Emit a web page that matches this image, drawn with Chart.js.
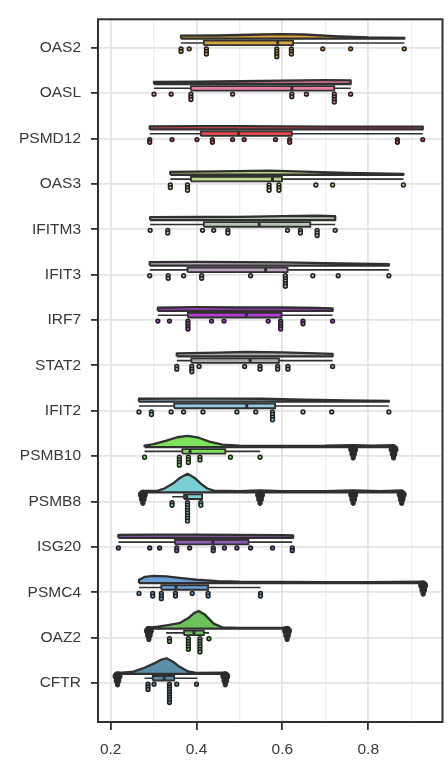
<!DOCTYPE html>
<html>
<head>
<meta charset="utf-8">
<script src="https://cdn.jsdelivr.net/npm/chart.js@4.4.1/dist/chart.umd.min.js"></script>
<style>
  html, body { margin: 0; padding: 0; background: #fff; }
  #wrap { width: 448px; height: 760px; }
</style>
</head>
<body>
<div id="wrap"><canvas id="rainChart" width="448" height="760"></canvas></div>
<script>
// genes, top to bottom
const genes = ['OAS2', 'OASL', 'PSMD12', 'OAS3', 'IFITM3', 'IFIT3', 'IRF7', 'STAT2',
  'IFIT2', 'PSMB10', 'PSMB8', 'ISG20', 'PSMC4', 'OAZ2', 'CFTR'];

const colors = ['#d9a53a', '#e87da6', '#e8474a', '#bcd98a', '#b7c6b4', '#b9a3bd', '#b13fd6', '#a9a9a9',
  '#93cbe3', '#7de35a', '#79cfd6', '#8c5cb3', '#6a9fd8', '#6cc25b', '#5b8fa8'];

// [lower whisker, q1, median, q3, upper whisker]
const boxStats = [
  [0.364, 0.417, 0.589, 0.625, 0.884],
  [0.301, 0.387, 0.622, 0.721, 0.759],
  [0.291, 0.410, 0.498, 0.622, 0.927],
  [0.339, 0.387, 0.577, 0.599, 0.882],
  [0.292, 0.417, 0.546, 0.665, 0.723],
  [0.291, 0.379, 0.561, 0.612, 0.848],
  [0.310, 0.380, 0.516, 0.598, 0.717],
  [0.354, 0.388, 0.525, 0.592, 0.717],
  [0.266, 0.348, 0.517, 0.583, 0.848],
  [0.279, 0.367, 0.385, 0.467, 0.548],
  [0.343, 0.371, 0.377, 0.413, 0.413],
  [0.218, 0.350, 0.438, 0.521, 0.623],
  [0.266, 0.318, 0.352, 0.427, 0.549],
  [0.329, 0.371, 0.394, 0.417, 0.429],
  [0.279, 0.298, 0.325, 0.348, 0.402]
];

// raw points: [value, how many at that value]
const points = [
  [[0.364, 2], [0.383, 1], [0.423, 3], [0.587, 4], [0.621, 3], [0.694, 1], [0.759, 1], [0.884, 1]],
  [[0.301, 1], [0.341, 1], [0.387, 3], [0.484, 1], [0.622, 2], [0.656, 1], [0.721, 4], [0.759, 1]],
  [[0.291, 2], [0.343, 1], [0.401, 1], [0.437, 2], [0.484, 1], [0.511, 1], [0.584, 1], [0.617, 2], [0.868, 2], [0.927, 1]],
  [[0.339, 2], [0.379, 3], [0.569, 3], [0.592, 3], [0.678, 1], [0.717, 1], [0.882, 1]],
  [[0.292, 1], [0.333, 2], [0.414, 1], [0.440, 1], [0.473, 2], [0.612, 1], [0.642, 2], [0.681, 3], [0.723, 1]],
  [[0.291, 1], [0.334, 2], [0.370, 1], [0.412, 2], [0.526, 1], [0.607, 5], [0.671, 1], [0.730, 1], [0.848, 1]],
  [[0.310, 1], [0.337, 1], [0.380, 4], [0.435, 1], [0.464, 1], [0.567, 1], [0.596, 4], [0.648, 2], [0.717, 1]],
  [[0.354, 2], [0.389, 3], [0.406, 1], [0.512, 1], [0.548, 2], [0.589, 2], [0.613, 2], [0.717, 1]],
  [[0.266, 1], [0.295, 2], [0.341, 1], [0.370, 1], [0.415, 1], [0.494, 1], [0.538, 1], [0.577, 4], [0.648, 1], [0.715, 1], [0.848, 1]],
  [[0.279, 1], [0.360, 4], [0.381, 3], [0.408, 2], [0.479, 1], [0.548, 1]],
  [[0.343, 2], [0.379, 8], [0.410, 2]],
  [[0.218, 1], [0.291, 1], [0.314, 1], [0.354, 2], [0.384, 1], [0.439, 2], [0.465, 1], [0.494, 1], [0.526, 1], [0.577, 1], [0.623, 2]],
  [[0.266, 1], [0.298, 2], [0.318, 3], [0.351, 2], [0.390, 1], [0.427, 2], [0.549, 2]],
  [[0.337, 2], [0.381, 5], [0.408, 6], [0.429, 1]],
  [[0.287, 3], [0.301, 1], [0.337, 8], [0.354, 1], [0.400, 1]]
];

// outliers piled into dark drops at the ends of the clouds
const blobs = [[], [], [], [], [], [], [], [], [],
  [0.765, 0.859],
  [0.275, 0.548, 0.765, 0.878],
  [],
  [0.928],
  [0.289, 0.611],
  [0.216, 0.467]
];

// half violin outline: [value, density]
const violins = [
  [[0.364, 3], [0.45, 3.2], [0.55, 4.2], [0.6, 4.7], [0.65, 4.2], [0.72, 2.5], [0.8, 1.2], [0.884, 0.8]],
  [[0.301, 2.2], [0.4, 2.5], [0.5, 2.8], [0.6, 3.5], [0.7, 4], [0.759, 3.8]],
  [[0.291, 3], [0.4, 3.3], [0.5, 3.3], [0.6, 3], [0.7, 2.8], [0.8, 2.8], [0.927, 2.8]],
  [[0.339, 3], [0.45, 3.5], [0.57, 4.2], [0.65, 3.2], [0.75, 1.8], [0.882, 1]],
  [[0.292, 3], [0.4, 3.2], [0.5, 3.3], [0.6, 4.2], [0.68, 4.5], [0.723, 4]],
  [[0.291, 3.5], [0.4, 3.7], [0.5, 3.5], [0.6, 3.3], [0.7, 2.5], [0.848, 1.3]],
  [[0.31, 3.2], [0.4, 3.8], [0.5, 3.5], [0.6, 3.5], [0.68, 3], [0.717, 2.5]],
  [[0.354, 3], [0.45, 3.8], [0.52, 4.6], [0.6, 4], [0.68, 3], [0.717, 2.5]],
  [[0.266, 3], [0.35, 3.2], [0.45, 3.2], [0.55, 3], [0.65, 2], [0.75, 1.2], [0.848, 0.8]],
  [[0.279, 1.5], [0.3, 3], [0.33, 6.5], [0.355, 10], [0.379, 11.5], [0.405, 9.5], [0.43, 5.5], [0.46, 2.5], [0.5, 1.5], [0.6, 1.2], [0.7, 1.3], [0.765, 2], [0.81, 1.3], [0.859, 2]],
  [[0.275, 1.5], [0.31, 1.8], [0.325, 4], [0.345, 9], [0.362, 15], [0.379, 19], [0.395, 15], [0.41, 9], [0.425, 4], [0.44, 1.8], [0.5, 1.2], [0.548, 2], [0.6, 1.2], [0.7, 1.2], [0.765, 2], [0.83, 1.2], [0.878, 2]],
  [[0.218, 3], [0.3, 3.2], [0.4, 3.2], [0.5, 3], [0.6, 2.7], [0.625, 2.5]],
  [[0.266, 3.5], [0.28, 6.5], [0.3, 7.5], [0.33, 7], [0.36, 5.5], [0.4, 3.5], [0.45, 2.2], [0.5, 1.5], [0.6, 1.2], [0.7, 1], [0.8, 1], [0.928, 1.5]],
  [[0.289, 1], [0.31, 2], [0.33, 3.3], [0.36, 5.5], [0.38, 10.5], [0.395, 16], [0.405, 18], [0.42, 14], [0.44, 5], [0.46, 1.3], [0.5, 0.8], [0.6, 0.8], [0.611, 1.5]],
  [[0.216, 1], [0.25, 2], [0.28, 6.5], [0.3, 10.5], [0.315, 14], [0.33, 16], [0.345, 12.5], [0.36, 7.5], [0.38, 2.5], [0.4, 1], [0.467, 1.2]]
];

const xTicks = [0.2, 0.3, 0.4, 0.5, 0.6, 0.7, 0.8, 0.9];
const xTickLabels = ['0.2', '', '0.4', '', '0.6', '', '0.8', ''];

// y position of each gene, OAS2 on top
const catPos = genes.map((g, i) => genes.length - i);

// offsets inside one row (in row units)
const VIOLIN_BASE = 0.2;
const BOX_MID = 0.105;
const BOX_HALF = 0.05;
const DOT_START = -0.025;
const DOT_STEP = 0.058;
const densScale = 1 / 46.3;
const INK = '#303030';

const datasets = [];
genes.forEach((g, i) => {
  const pos = catPos[i];
  const col = colors[i];
  const [lo, q1, med, q3, hi] = boxStats[i];

  const dots = [];
  points[i].forEach(([v, n]) => {
    for (let k = 0; k < n; k++) dots.push({x: v, y: pos + DOT_START - k * DOT_STEP});
  });
  datasets.push({
    label: g, data: dots, showLine: false,
    pointRadius: 1.9, pointBorderWidth: 1.5,
    pointBackgroundColor: col, pointBorderColor: '#1f1f1f', order: 1
  });

  if (blobs[i].length) {
    const bd = [], br = [];
    blobs[i].forEach(v => {
      bd.push({x: v, y: pos + 0.15}, {x: v, y: pos + 0.05}, {x: v, y: pos - 0.04});
      br.push(4.5, 3.4, 2.2);
    });
    datasets.push({
      label: g + ' out', data: bd, showLine: false,
      pointRadius: br, pointBorderWidth: 1,
      pointBackgroundColor: '#2b2b2b', pointBorderColor: '#2b2b2b', order: 2
    });
  }

  const bm = pos + BOX_MID;
  datasets.push({
    label: g + ' median', data: [{x: med, y: bm - BOX_HALF}, {x: med, y: bm + BOX_HALF}],
    borderColor: INK, borderWidth: 3, pointRadius: 0, fill: false, order: 3
  });
  datasets.push({
    label: g + ' box',
    data: [{x: q1, y: bm - BOX_HALF}, {x: q1, y: bm + BOX_HALF}, {x: q3, y: bm + BOX_HALF},
      {x: q3, y: bm - BOX_HALF}, {x: q1, y: bm - BOX_HALF}],
    borderColor: INK, borderWidth: 1.8, backgroundColor: col, fill: 'shape', pointRadius: 0, order: 4
  });
  datasets.push({
    label: g + ' whisker', data: [{x: lo, y: bm}, {x: hi, y: bm}],
    borderColor: INK, borderWidth: 1.6, pointRadius: 0, fill: false, order: 5
  });

  const base = pos + VIOLIN_BASE;
  const v = violins[i];
  const poly = [{x: v[0][0], y: base}]
    .concat(v.map(([x, d]) => ({x: x, y: base + d * densScale})))
    .concat([{x: v[v.length - 1][0], y: base}, {x: v[0][0], y: base}]);
  datasets.push({
    label: g + ' cloud', data: poly,
    borderColor: INK, borderWidth: 2.3, borderJoinStyle: 'round',
    backgroundColor: col, fill: 'shape', pointRadius: 0, order: 6
  });
});

const framePlugin = {
  id: 'frame',
  afterDatasetsDraw(chart) {
    const {ctx, chartArea: a} = chart;
    ctx.save();
    ctx.strokeStyle = INK;
    ctx.lineWidth = 2;
    ctx.strokeRect(a.left, a.top, a.right - a.left, a.bottom - a.top);
    ctx.restore();
  }
};

const labelFont = {family: "'Liberation Sans', Arial, sans-serif", size: 15.5};

new Chart(document.getElementById('rainChart'), {
  type: 'line',
  data: {datasets: datasets},
  options: {
    responsive: false,
    animation: false,
    devicePixelRatio: 1,
    events: [],
    layout: {padding: {top: 5, right: 2, left: 0, bottom: 0}},
    plugins: {legend: {display: false}, tooltip: {enabled: false}},
    scales: {
      x: {
        type: 'linear',
        min: 0.1705,
        max: 0.973,
        afterBuildTicks: s => { s.ticks = xTicks.map(v => ({value: v})); },
        afterFit: s => { s.height = 38; },
        ticks: {
          callback: (v, idx) => xTickLabels[idx],
          font: labelFont, color: '#383838', padding: 10, maxRotation: 0, autoSkip: false
        },
        grid: {
          color: c => xTickLabels[c.index] ? '#e3e3e3' : '#eeeeee',
          lineWidth: c => xTickLabels[c.index] ? 1.8 : 1.3,
          tickColor: c => xTickLabels[c.index] ? INK : 'rgba(0,0,0,0)',
          tickLength: 8, tickWidth: 1.8
        },
        border: {display: false}
      },
      y: {
        type: 'linear',
        min: 0.141,
        max: 15.626,
        afterBuildTicks: s => { s.ticks = catPos.map(v => ({value: v})); },
        afterFit: s => { s.width = 98; },
        ticks: {
          callback: v => genes[genes.length - Math.round(v)],
          font: labelFont, color: '#383838', padding: 10, autoSkip: false
        },
        grid: {color: '#e3e3e3', lineWidth: 1.8, tickColor: INK, tickLength: 7, tickWidth: 1.8},
        border: {display: false}
      }
    }
  },
  plugins: [framePlugin]
});
</script>
</body>
</html>
